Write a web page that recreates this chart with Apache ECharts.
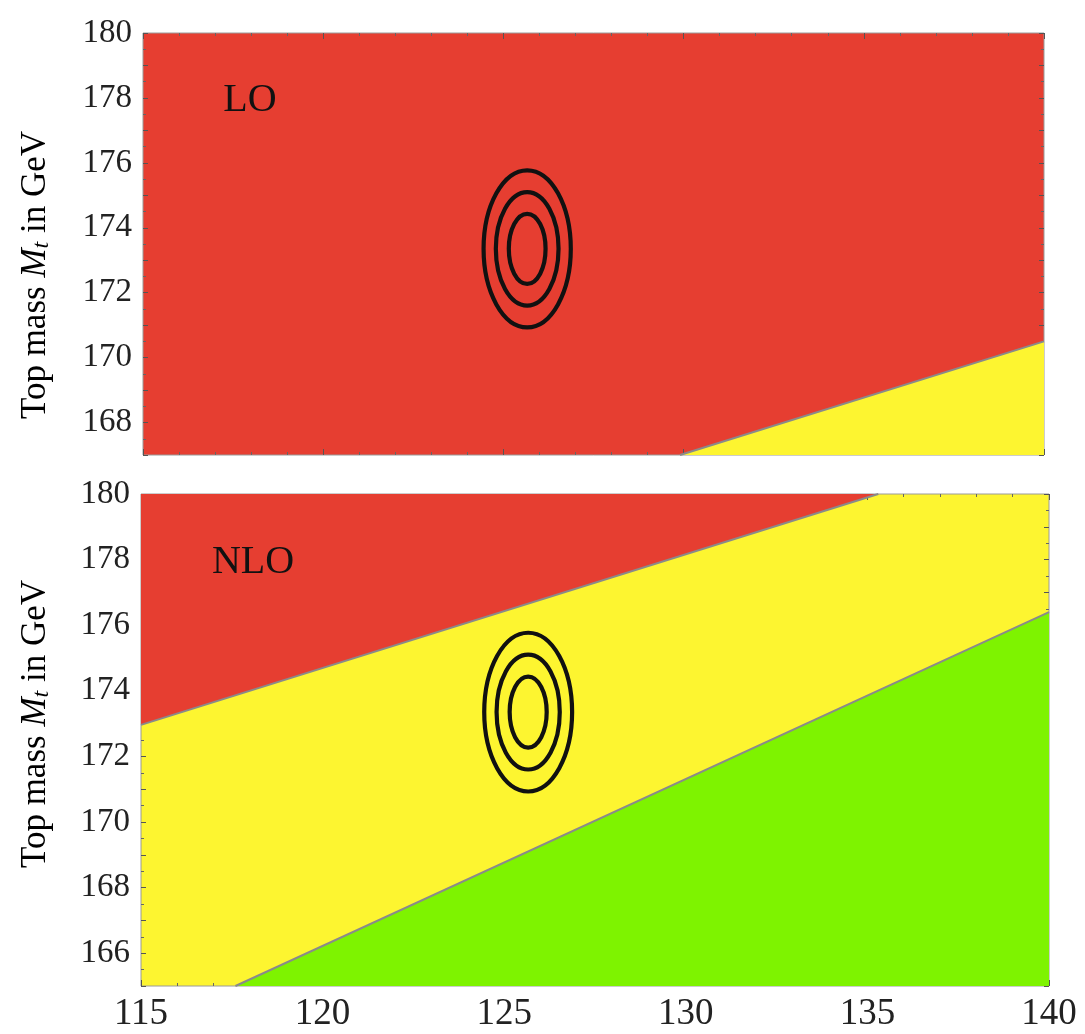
<!DOCTYPE html>
<html>
<head>
<meta charset="utf-8">
<script src="https://cdn.jsdelivr.net/npm/echarts@6/dist/echarts.min.js"></script>
<style>
html,body{margin:0;padding:0;background:#fff;}
#c{width:1085px;height:1034px;}
</style>
</head>
<body>
<div id="c"></div>
<script>
// ---- data ----
const higgsMassRange = [115, 140];
const topMassRangeLO = [167, 180];
const topMassRangeNLO = [165, 180];
// boundaries between stability regions (Higgs mass, top mass)
const loRedYellowBoundary = [[129.9, 167.0], [140, 170.5]];
const nloRedYellowBoundary = [[115, 172.96], [135.3, 180]];
const nloYellowGreenBoundary = [[117.6, 165], [140, 176.4]];
// measurement ellipses (1,2,3 sigma)
const ellipseCenter = [125.66, 173.35];
const ellipseHalfWidths = [0.51, 0.87, 1.21];
const ellipseHalfHeights = [1.08, 1.75, 2.42];
const panelLabels = ['LO', 'NLO'];
const yAxisTitle = ['Top mass ', 'M', 't', ' in GeV'];

// ---- styles ----
const RED = '#E63E31', YELLOW = '#FDF530', GREEN = '#7EF300';
const FONT = 'Liberation Serif';
const TXT = '#222';

const ellipseData = ellipseHalfWidths.map((w, i) => [ellipseCenter[0], ellipseCenter[1], w, ellipseHalfHeights[i]]);

function xAx(grid, pos, labels) {
  return {
    type: 'value', gridIndex: grid, position: pos,
    min: higgsMassRange[0], max: higgsMassRange[1], interval: 5,
    axisLine: {show: false},
    axisTick: {show: true, inside: true, length: 6, lineStyle: {color: '#555', width: 1}},
    minorTick: {show: true, splitNumber: 5, length: 3, lineStyle: {color: '#666', width: 1}},
    splitLine: {show: false},
    axisLabel: {show: labels, fontFamily: FONT, fontSize: 37, color: TXT, margin: 10}
  };
}
function yAx(grid, pos, range, labels) {
  return {
    type: 'value', gridIndex: grid, position: pos,
    min: range[0], max: range[1], interval: 1,
    axisLine: {show: false},
    axisTick: {show: true, inside: true, length: 5, lineStyle: {color: '#555', width: 1}},
    minorTick: {show: true, splitNumber: 2, length: 3, lineStyle: {color: '#666', width: 1}},
    splitLine: {show: false},
    axisLabel: {show: labels, fontFamily: FONT, fontSize: 33, color: TXT, margin: 11,
      formatter: v => (Math.round(v) % 2 === 0 ? String(v) : '')}
  };
}
function ellipseSeries(xi, yi) {
  return {
    type: 'custom', xAxisIndex: xi, yAxisIndex: yi, z: 5,
    data: ellipseData,
    renderItem: function (params, api) {
      const c = api.coord([api.value(0), api.value(1)]);
      const s = api.size([api.value(2), api.value(3)]);
      return {type: 'ellipse', shape: {cx: c[0], cy: c[1], rx: s[0], ry: s[1]},
        style: {fill: 'none', stroke: '#111', lineWidth: 4.2}};
    }
  };
}
function boundary(data, xi, yi, color, origin) {
  return {
    type: 'line', xAxisIndex: xi, yAxisIndex: yi, data: data, symbol: 'none',
    lineStyle: {color: '#8a8a8a', width: 2},
    areaStyle: {color: color, opacity: 1, origin: origin},
    z: 2, silent: true
  };
}
const rich = {
  n: {fontFamily: FONT, fontSize: 35, color: TXT},
  i: {fontFamily: FONT, fontSize: 35, fontStyle: 'italic', color: TXT},
  s: {fontFamily: FONT, fontSize: 24, fontStyle: 'italic', color: TXT, verticalAlign: 'bottom'}
};
const titleText = '{n|' + yAxisTitle[0] + '}{i|' + yAxisTitle[1] + '}{s|' + yAxisTitle[2] + '}{n|' + yAxisTitle[3] + '}';

const option = {
  animation: false,
  backgroundColor: '#fff',
  grid: [
    {left: 143, top: 33, right: 41, bottom: 579, show: true, backgroundColor: RED, borderColor: '#9a9a9a', borderWidth: 1},
    {left: 141, top: 494, right: 36, bottom: 48, show: true, backgroundColor: YELLOW, borderColor: '#9a9a9a', borderWidth: 1}
  ],
  xAxis: [xAx(0, 'bottom', false), xAx(0, 'top', false), xAx(1, 'bottom', true), xAx(1, 'top', false)],
  yAxis: [yAx(0, 'left', topMassRangeLO, true), yAx(0, 'right', topMassRangeLO, false),
          yAx(1, 'left', topMassRangeNLO, true), yAx(1, 'right', topMassRangeNLO, false)],
  series: [
    boundary(loRedYellowBoundary, 0, 0, YELLOW, 'start'),
    ellipseSeries(0, 0),
    boundary(nloRedYellowBoundary, 2, 2, RED, 'end'),
    boundary(nloYellowGreenBoundary, 2, 2, GREEN, 'start'),
    ellipseSeries(2, 2)
  ],
  graphic: [
    {type: 'text', x: 250, y: 100, z: 10, style: {text: panelLabels[0], font: '40px "Liberation Serif"', fill: '#111', align: 'center', verticalAlign: 'middle'}},
    {type: 'text', x: 253, y: 562, z: 10, style: {text: panelLabels[1], font: '40px "Liberation Serif"', fill: '#111', align: 'center', verticalAlign: 'middle'}},
    {type: 'text', x: 36, y: 275, rotation: Math.PI / 2, z: 10, style: {text: titleText, rich: rich, align: 'center', verticalAlign: 'middle'}},
    {type: 'text', x: 36, y: 724, rotation: Math.PI / 2, z: 10, style: {text: titleText, rich: rich, align: 'center', verticalAlign: 'middle'}}
  ]
};
const chart = echarts.init(document.getElementById('c'), null, {renderer: 'canvas'});
chart.setOption(option);
</script>
</body>
</html>
